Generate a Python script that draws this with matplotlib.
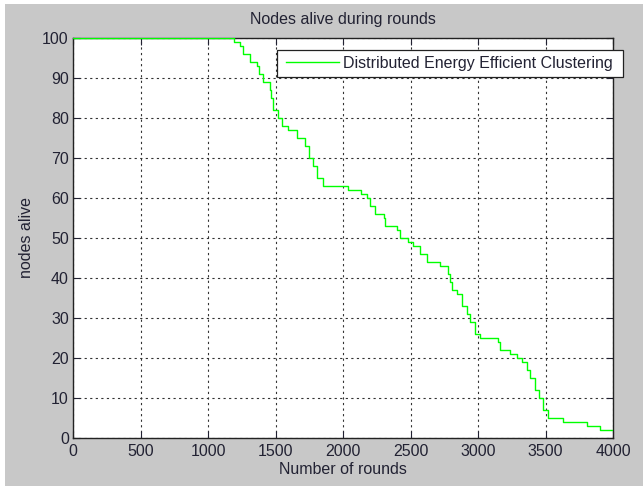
import matplotlib
matplotlib.use("Agg")
import matplotlib.pyplot as plt
from matplotlib.patches import Rectangle

rounds = [0, 1190, 1235, 1260, 1310, 1365, 1375, 1410, 1460, 1470, 1485, 1520,
          1550, 1590, 1660, 1720, 1745, 1780, 1810, 1850, 2040, 2130, 2175,
          2200, 2240, 2300, 2310, 2400, 2420, 2485, 2520, 2570, 2620, 2720,
          2780, 2795, 2810, 2845, 2880, 2920, 2940, 2980, 3015, 3150, 3165,
          3240, 3290, 3325, 3360, 3385, 3420, 3450, 3485, 3520, 3630, 3805,
          3905, 4000]
alive = [100, 99, 98, 96, 94, 93, 91, 89, 87, 85, 82, 80,
         78, 77, 75, 73, 70, 68, 65, 63, 62, 61, 60,
         58, 56, 55, 53, 52, 50, 49, 48, 46, 44, 43,
         41, 39, 37, 36, 33, 31, 29, 26, 25, 24, 22,
         21, 20, 19, 17, 15, 12, 10, 7, 5, 4, 3,
         2, 2]
xticks = [0, 500, 1000, 1500, 2000, 2500, 3000, 3500, 4000]
yticks = [0, 10, 20, 30, 40, 50, 60, 70, 80, 90, 100]
series_label = "Distributed Energy Efficient Clustering"

plt.rcParams['font.family'] = ['Liberation Sans', 'DejaVu Sans']
FS = 11.5
TC = '#222233'
W, H = 643, 486
fig = plt.figure(figsize=(W / 100, H / 100), dpi=100, facecolor='white')
fig.patches.append(Rectangle((5 / W, 0), 1, 1 - 4 / H, transform=fig.transFigure,
                             facecolor='#c8c8c8', edgecolor='none', zorder=-10))

ax = fig.add_axes([73 / W, 1 - 438 / H, 540 / W, 400 / H])
ax.set_facecolor('white')
ax.plot(rounds, alive, drawstyle='steps-post', color='#00ff00', lw=1.0,
        label=series_label, zorder=3)
ax.set_xlim(0, 4000)
ax.set_ylim(0, 100)
ax.set_xticks(xticks)
ax.set_yticks(yticks)
ax.tick_params(direction='in', top=True, right=True, length=5, width=0.8,
               labelsize=FS, colors=TC, pad=3)
ax.tick_params(axis='x', pad=4.5)
ax.grid(True, color='#333333', linestyle=(0, (2, 3)), linewidth=0.8)
for s in ax.spines.values():
    s.set_color('#222222')
    s.set_linewidth(1.0)

ax.set_title("Nodes alive during rounds", fontsize=FS, color=TC, pad=10)
ax.set_xlabel("Number of rounds", fontsize=FS, color=TC, labelpad=2)
ax.set_ylabel("nodes alive", fontsize=FS, color=TC, labelpad=6)

# legend frame (extends past the axes edge, as in the reference)
fig.patches.append(Rectangle((277 / W, 1 - 77 / H), 346 / W, 27 / H,
                             transform=fig.transFigure, facecolor='white',
                             edgecolor='#222222', linewidth=0.9, zorder=5))
handles, labels = ax.get_legend_handles_labels()
leg = fig.legend(handles, labels, loc='center left',
                 bbox_to_anchor=(286 / W, 1 - 63.5 / H),
                 bbox_transform=fig.transFigure, fontsize=FS,
                 frameon=False, borderaxespad=0, borderpad=0,
                 handlelength=3.3, handletextpad=0.25)
leg.set_zorder(6)
for t in leg.get_texts():
    t.set_color(TC)

fig.savefig("out.png", dpi=100, facecolor=fig.get_facecolor())
